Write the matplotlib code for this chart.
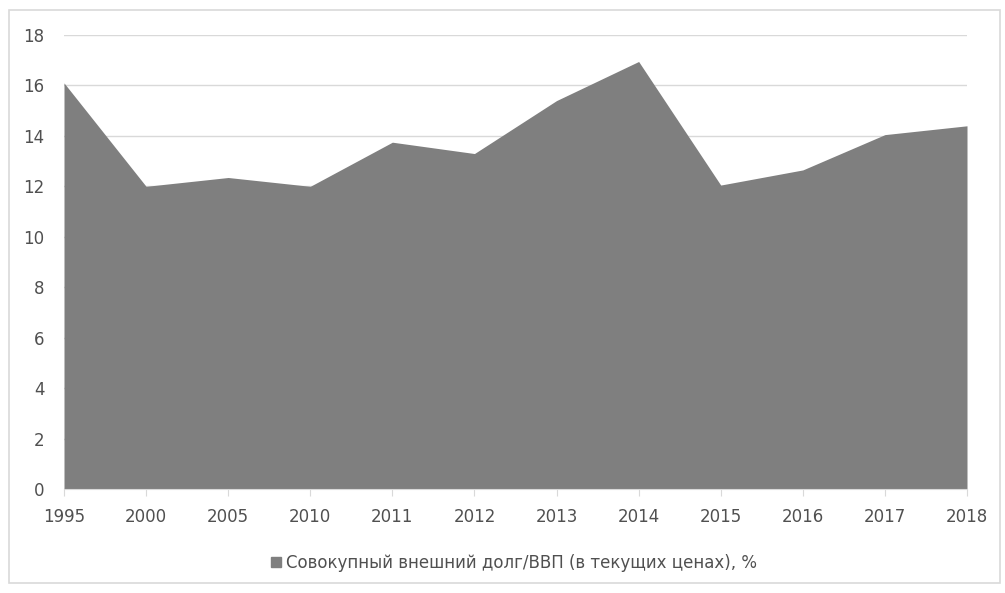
import matplotlib.pyplot as plt
from matplotlib.patches import Rectangle, Patch

plt.rcParams['font.family'] = ['DejaVu Sans']

years = ["1995", "2000", "2005", "2010", "2011", "2012", "2013", "2014", "2015", "2016", "2017", "2018"]
debt_gdp = [16.1, 12.0, 12.35, 12.0, 13.75, 13.3, 15.4, 16.95, 12.05, 12.65, 14.05, 14.4]
series_name = "Совокупный внешний долг/ВВП (в текущих ценах), %"

fill_color = "#7f7f7f"
grid_color = "#d9d9d9"
text_color = "#505050"

fig = plt.figure(figsize=(10.05, 5.93), dpi=100)
# outer chart border
fig.patches.append(Rectangle((9 / 1005, 10 / 593), 991 / 1005, 573 / 593, transform=fig.transFigure,
                             fill=False, edgecolor="#d9d9d9", linewidth=1.2))

ax = fig.add_axes([64 / 1005, 1 - 489 / 593, (967 - 64) / 1005, (489 - 35) / 593])
x = list(range(len(years)))
ax.fill_between(x, debt_gdp, 0, color=fill_color, linewidth=0, zorder=2)

ax.set_xlim(0, len(years) - 1)
ax.set_ylim(0, 18)
ax.set_yticks(range(0, 19, 2))
ax.set_xticks(x)
ax.set_xticklabels(years)
ax.grid(axis="y", color=grid_color, linewidth=1, zorder=0)
ax.set_axisbelow(True)

for s in ["top", "right", "left"]:
    ax.spines[s].set_visible(False)
ax.spines["bottom"].set_color(grid_color)
ax.spines["bottom"].set_zorder(3)
ax.tick_params(axis="x", length=5, color=grid_color, labelsize=12, labelcolor=text_color, pad=9)
ax.tick_params(axis="y", length=0, labelsize=12, labelcolor=text_color, pad=14)

fig.legend(handles=[Patch(color=fill_color, label=series_name)], loc="center",
           bbox_to_anchor=(514 / 1005, 1 - 563 / 593), frameon=False, fontsize=12,
           handlelength=0.6, handleheight=0.6, handletextpad=0.3, labelcolor=text_color)

fig.savefig("out.png", dpi=100)
